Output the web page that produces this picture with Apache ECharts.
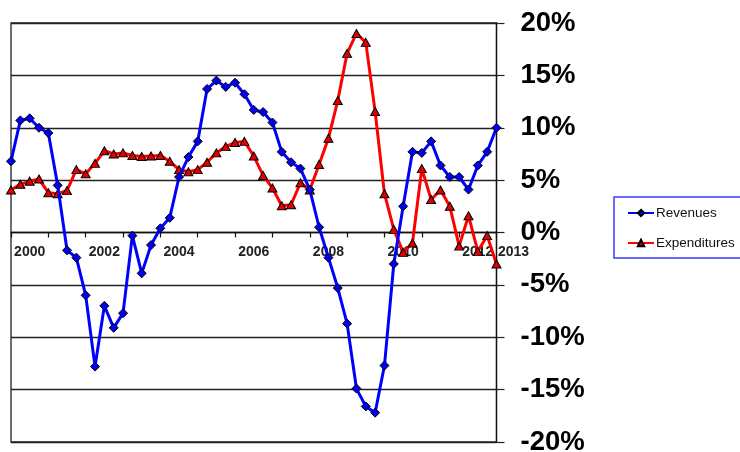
<!DOCTYPE html>
<html>
<head>
<meta charset="utf-8">
<script src="https://cdn.jsdelivr.net/npm/echarts@6/dist/echarts.min.js"></script>
<style>
  html, body { margin: 0; padding: 0; background: #fff; }
  #chart { width: 740px; height: 452px; }
</style>
</head>
<body>
<div id="chart"></div>
<script>
// Quarterly periods; only the year markers carry a visible label.
const periods = [
  '', '', '2000', '', '', '', '', '', '', '',
  '2002', '', '', '', '', '', '', '', '2004', '',
  '', '', '', '', '', '', '2006', '', '', '',
  '', '', '', '', '2008', '', '', '', '', '',
  '', '', '2010', '', '', '', '', '', '', '',
  '2012', '', '2013'
];

// Year-over-year growth, percent
const revenues = [
  6.8, 10.7, 10.9, 10.0, 9.5, 4.5, -1.7, -2.4, -6.0, -12.8,
  -7.0, -9.1, -7.7, -0.3, -3.9, -1.2, 0.4, 1.4, 5.3, 7.2,
  8.7, 13.7, 14.5, 13.9, 14.3, 13.2, 11.7, 11.5, 10.5, 7.7,
  6.7, 6.1, 4.1, 0.5, -2.4, -5.3, -8.7, -14.9, -16.6, -17.2,
  -12.7, -3.0, 2.5, 7.7, 7.6, 8.7, 6.4, 5.3, 5.3, 4.1,
  6.4, 7.7, 10.0
];

const expenditures = [
  4.05, 4.6, 4.9, 5.1, 3.8, 3.7, 4.0, 6.0, 5.6, 6.6,
  7.8, 7.5, 7.6, 7.35, 7.25, 7.3, 7.35, 6.8, 6.0, 5.8,
  6.0, 6.7, 7.6, 8.2, 8.6, 8.7, 7.3, 5.45, 4.25, 2.56,
  2.65, 4.75, 4.06, 6.5, 9.0, 12.6, 17.1, 19.0, 18.15, 11.55,
  3.7, 0.3, -1.9, -1.0, 6.1, 3.15, 4.05, 2.5, -1.3, 1.6,
  -1.8, -0.3, -3.0
];

const FONT = '"Liberation Sans", Arial, sans-serif';
const GRID_TOP = 23, GRID_BOTTOM = 10, HEIGHT = 452;
// The category axis runs along the 0% line, halfway down the symmetric value range.
const zeroLineOffset = -((HEIGHT - GRID_BOTTOM) - (GRID_TOP + HEIGHT - GRID_BOTTOM) / 2);

const chart = echarts.init(document.getElementById('chart'), null, { renderer: 'canvas' });

chart.setOption({
  animation: false,
  backgroundColor: '#ffffff',
  textStyle: { fontFamily: FONT },
  grid: {
    left: 11, right: 243.5, top: GRID_TOP, bottom: GRID_BOTTOM,
    outerBoundsMode: 'none',
    containLabel: false,
    show: true, borderColor: '#222', borderWidth: 1.3
  },
  legend: {
    orient: 'vertical',
    left: 614, top: 197,
    padding: [9, 30, 8, 13],
    itemGap: 16,
    itemWidth: 26,
    itemHeight: 8,
    borderColor: '#3a3aff',
    borderWidth: 1.5,
    textStyle: { fontFamily: FONT, fontSize: 13.5, color: '#111', padding: [0, 0, 0, -3] },
    data: ['Revenues', 'Expenditures']
  },
  xAxis: {
    type: 'category',
    data: periods,
    boundaryGap: false,
    position: 'bottom',
    offset: zeroLineOffset,
    axisLine: { onZero: false, lineStyle: { color: '#111', width: 1.3 } },
    axisTick: {
      show: true, length: 5, inside: false,
      interval: (i) => i % 4 === 0,
      lineStyle: { color: '#111', width: 1.2 }
    },
    axisLabel: {
      interval: 0,
      margin: 13,
      fontFamily: FONT,
      fontSize: 14,
      fontWeight: 'bold',
      color: '#222',
      formatter: (v) => (v === '2013' ? '{r|' + v + '}' : v),
      rich: { r: { fontFamily: FONT, fontSize: 14, fontWeight: 'bold', color: '#222', padding: [0, 0, 0, 34] } }
    },
    splitLine: { show: false }
  },
  yAxis: {
    type: 'value',
    position: 'right',
    min: -20, max: 20, interval: 5,
    axisLine: { show: true, lineStyle: { color: '#111', width: 1.3 } },
    axisTick: { show: true, length: 8, inside: false, lineStyle: { color: '#222', width: 1.2 } },
    axisLabel: {
      margin: 24,
      fontFamily: FONT,
      fontSize: 27.5,
      fontWeight: 'bold',
      color: '#000',
      formatter: '{value}%'
    },
    splitLine: { show: true, lineStyle: { color: '#222', width: 1.3 } }
  },
  series: [
    {
      name: 'Expenditures',
      type: 'line',
      data: expenditures,
      z: 3,
      symbol: 'triangle',
      symbolSize: [9, 8],
      lineStyle: { color: '#ff0000', width: 3 },
      itemStyle: { color: '#e00000', borderColor: '#000', borderWidth: 1 }
    },
    {
      name: 'Revenues',
      type: 'line',
      data: revenues,
      z: 4,
      symbol: 'diamond',
      symbolSize: 9,
      lineStyle: { color: '#0000ff', width: 3 },
      itemStyle: { color: '#0000ee', borderColor: '#000', borderWidth: 1 }
    }
  ]
});
</script>
</body>
</html>
